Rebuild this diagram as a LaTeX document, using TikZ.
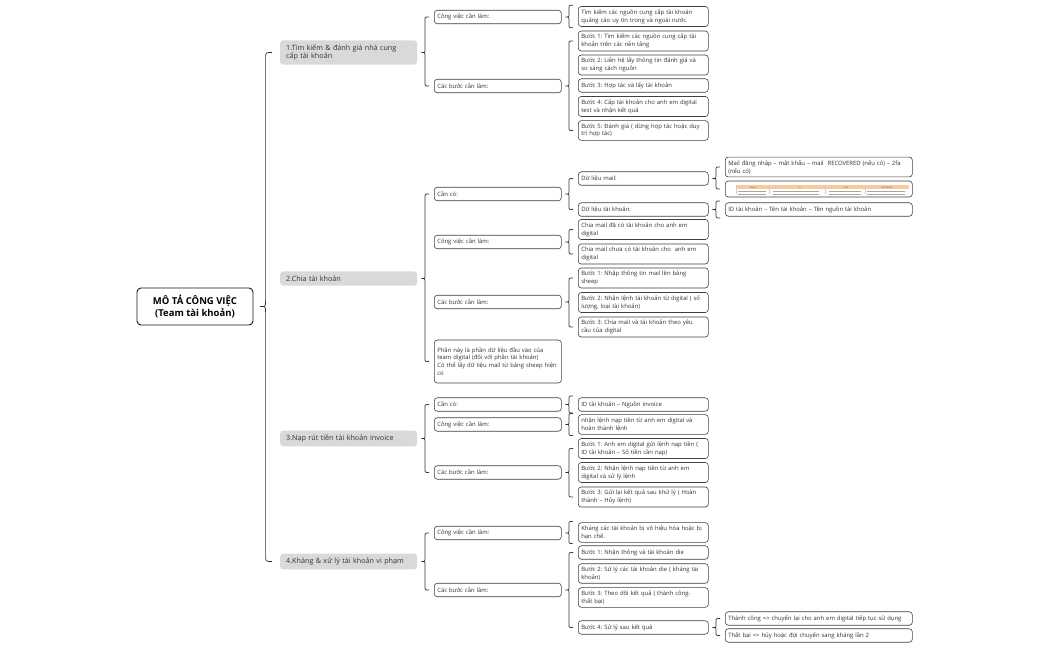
\documentclass[tikz,border=0pt]{standalone}
\usepackage{fontspec}
\setmainfont{Open Sans}
\usepackage{xcolor}
\usepackage{tikz}
\usetikzlibrary{calc, positioning}
\definecolor{topicgray}{HTML}{D9D9D9}
\definecolor{inkgray}{HTML}{333333}
\definecolor{tblorange}{HTML}{F9CB9C}
\frenchspacing
\tikzset{
  rootbox/.style={draw=black!90, line width=0.9pt, rounded corners=4pt, fill=white,
    align=center, minimum width=116pt, minimum height=37pt, text=black,
    font=\fontsize{9.5}{12}\selectfont\bfseries},
  topicbox/.style={fill=topicgray, rounded corners=3pt, text width=125pt,
    inner xsep=6pt, inner ysep=4pt, align=left, anchor=west, text=inkgray,
    font=\fontsize{7.2}{8.5}\selectfont},
  leafbox/.style={draw=black!75, line width=0.6pt, rounded corners=3pt, fill=white,
    align=left, inner xsep=3pt, inner ysep=3pt, minimum height=13.5pt,
    anchor=west, text=inkgray, font=\fontsize{5.9}{7.8}\selectfont},
  subbox/.style={leafbox, text width=121pt},
  stepbox/.style={leafbox, text width=124pt},
  detailbox/.style={leafbox, text width=181pt},
  link/.style={draw=black!80, line width=0.7pt}
}
% curly connector: [size] parent, upper end, lower end
\newcommand{\bracelink}[4][1]{%
  \draw[link] let \p1=(#2.east), \p2=(#3), \p3=(#4), \p4=($(#3)+(-9*#1,0)$) in
    ({\x2-5*#1pt},\y2) .. controls (\x4,\y2) .. (\x4,{\y2-3.5*#1pt})
    -- (\x4,{\y1+3.5*#1pt}) .. controls (\x4,\y1) .. ({\x4-3.5*#1pt},\y1)
    .. controls (\x4,\y1) .. (\x4,{\y1-3.5*#1pt})
    -- (\x4,{\y3+3.5*#1pt}) .. controls (\x4,\y3) .. ({\x3-5*#1pt},\y3);
}

\begin{document}
\begin{tikzpicture}[x=1pt,y=-1pt]
\useasboundingbox (0,0) rectangle (1050,650);

% root
\node[rootbox] (root) at (195,306.5) {MÔ TẢ CÔNG VIỆC\\(Team tài khoản)};

% main topics
\node[topicbox] (t1) at (280,52.5) {1.Tìm kiếm \& đánh giá nhà cung\\cấp tài khoản};
\node[topicbox] (t2) at (280,278.5) {2.Chia tài khoản};
\node[topicbox] (t3) at (280,438.5) {3.Nạp rút tiền tài khoản invoice};
\node[topicbox] (t4) at (280,561.5) {4.Kháng \& xử lý tài khoản vi phạm};

% topic 1
\node[subbox] (s11) at (434,17) {Công việc cần làm:};
\node[subbox] (s12) at (434,86) {Các bước cần làm:};
\node[stepbox] (c111) at (578,16.5) {Tìm kiếm các nguồn cung cấp tài khoản\\quảng cáo uy tín trong và ngoài nước.};
\node[stepbox] (c121) at (578,41) {Bước 1: Tìm kiếm các nguồn cung cấp tài\\khoản trên các nền tảng};
\node[stepbox] (c122) at (578,65) {Bước 2: Liên hệ lấy thông tin đánh giá và\\so sáng cách nguồn};
\node[stepbox] (c123) at (578,85.5) {Bước 3: Hợp tác và lấy tài khoản};
\node[stepbox] (c124) at (578,106.5) {Bước 4: Cấp tài khoản cho anh em digital\\test và nhận kết quả};
\node[stepbox] (c125) at (578,130.5) {Bước 5: Đánh giá ( dừng hợp tác hoặc duy\\trì hợp tác)};

% topic 2
\node[subbox] (s21) at (434,194) {Cần có:};
\node[subbox] (s22) at (434,242) {Công việc cần làm:};
\node[subbox] (s23) at (434,302) {Các bước cần làm:};
\node[subbox, minimum height=43pt] (s24) at (434,361.5) {Phần này là phần dữ liệu đầu vào của\\team digital (đối với phần tài khoản)\\Có thể lấy dữ liệu mail từ bảng sheep hiện\\có};
\node[stepbox] (c211) at (578,178.5) {Dữ liệu mail:};
\node[stepbox] (c212) at (578,209.5) {Dữ liệu tài khoản:};
\node[detailbox] (d2111) at (725,167) {Mail đăng nhập – mật khẩu – mail~ RECOVERED (nếu có) – 2fa\\(nếu có)};
\node[leafbox, minimum width=187pt, minimum height=16pt, inner sep=0pt] (d2112) at (725,189) {};
\node[detailbox] (d2121) at (725,209.5) {ID tài khoản – Tên tài khoản – Tên nguồn tài khoản};
\node[stepbox] (c221) at (578,229.5) {Chia mail đã có tài khoản cho anh em\\digital};
\node[stepbox] (c222) at (578,254) {Chia mail chưa có tài khoản cho~ anh em\\digital};
\node[stepbox] (c231) at (578,278) {Bước 1: Nhập thông tin mail lên bảng\\sheep};
\node[stepbox] (c232) at (578,302.5) {Bước 2: Nhận lệnh tài khoản từ digital ( số\\lượng, loại tài khoản)};
\node[stepbox] (c233) at (578,327) {Bước 3: Chia mail và tài khoản theo yêu\\cầu của digital};

% sheet snapshot
\fill[tblorange] ($(d2112.west)+(11,-3.5)$) rectangle ($(d2112.east)+(-4,0.5)$);
\foreach \cx/\lbl in {28/EMAIL, 75/ID, 121/PASS, 162/RECOVERED}
  \node[inner sep=0pt, font=\fontsize{2}{2}\selectfont, text=black!70] at ($(d2112.west)+(\cx,-1.5)$) {\lbl};
\foreach \ry in {2.3, 4.8} {
  \draw[black!35, line width=0.5pt] ($(d2112.west)+(13,\ry)$) -- ++(28,0);
  \draw[black!35, line width=0.5pt] ($(d2112.west)+(48,\ry)$) -- ++(46,0);
  \draw[black!35, line width=0.5pt] ($(d2112.west)+(104,\ry)$) -- ++(32,0);
  \draw[black!35, line width=0.5pt] ($(d2112.west)+(142,\ry)$) -- ++(38,0);
}
\foreach \cx in {11, 44, 100, 140}
  \draw[black!20, line width=0.3pt] ($(d2112.west)+(\cx,-3.5)$) -- ++(0,9);

% topic 3
\node[subbox] (s31) at (434,404.5) {Cần có:};
\node[subbox] (s32) at (434,424.5) {Công việc cần làm:};
\node[subbox] (s33) at (434,472.5) {Các bước cần làm:};
\node[stepbox] (c311) at (578,404.5) {ID tài khoản – Nguồn invoice};
\node[stepbox] (c321) at (578,424.5) {nhận lệnh nạp tiền từ anh em digital và\\hoàn thành lệnh};
\node[stepbox] (c331) at (578,448.5) {Bước 1: Anh em digital gửi lệnh nạp tiền (\\ID tài khoản – Số tiền cần nạp)};
\node[stepbox] (c332) at (578,472.5) {Bước 2: Nhận lệnh nạp tiền từ anh em\\digital và sử lý lệnh};
\node[stepbox] (c333) at (578,497) {Bước 3: Gửi lại kết quả sau khử lý ( Hoàn\\thành – Hủy lệnh)};

% topic 4
\node[subbox] (s41) at (434,533) {Công việc cần làm:};
\node[subbox] (s42) at (434,590) {Các bước cần làm:};
\node[stepbox] (c411) at (578,532.5) {Kháng các tài khoản bị vô hiệu hóa hoặc bị\\hạn chế.};
\node[stepbox] (c421) at (578,552.5) {Bước 1: Nhận thông và tài khoản die};
\node[stepbox] (c422) at (578,573.5) {Bước 2: Sử lý các tài khoản die ( kháng tài\\khoản)};
\node[stepbox] (c423) at (578,597.5) {Bước 3: Theo dõi kết quả ( thành công-\\thất bại)};
\node[stepbox] (c424) at (578,627.5) {Bước 4: Sử lý sau kết quả};
\node[detailbox] (d4241) at (725,618.5) {Thành công => chuyển lại cho anh em digital tiếp tục sử dụng};
\node[detailbox] (d4242) at (725,635.5) {Thất bại => hủy hoặc đợi chuyển sang kháng lần 2};

% connectors
\bracelink[1.6]{root}{t1.west}{t4.west}
\bracelink{t1}{s11.west}{s12.west}
\bracelink{s11}{$(c111.north west)+(0,-1)$}{$(c111.south west)+(0,1)$}
\bracelink{s12}{c121.west}{c125.west}
\bracelink{t2}{s21.west}{s24.west}
\bracelink{s21}{c211.west}{c212.west}
\bracelink{c211}{d2111.west}{d2112.west}
\bracelink{c212}{$(d2121.north west)+(0,-1.5)$}{$(d2121.south west)+(0,1.5)$}
\bracelink{s22}{c221.west}{c222.west}
\bracelink{s23}{c231.west}{c233.west}
\bracelink{t3}{s31.west}{s33.west}
\bracelink{s31}{$(c311.north west)+(0,-1.5)$}{$(c311.south west)+(0,1.5)$}
\bracelink{s32}{$(c321.north west)+(0,-1)$}{$(c321.south west)+(0,1)$}
\bracelink{s33}{c331.west}{c333.west}
\bracelink{t4}{s41.west}{s42.west}
\bracelink{s41}{$(c411.north west)+(0,-1)$}{$(c411.south west)+(0,1)$}
\bracelink{s42}{c421.west}{c424.west}
\bracelink{c424}{d4241.west}{d4242.west}
\end{tikzpicture}
\end{document}
